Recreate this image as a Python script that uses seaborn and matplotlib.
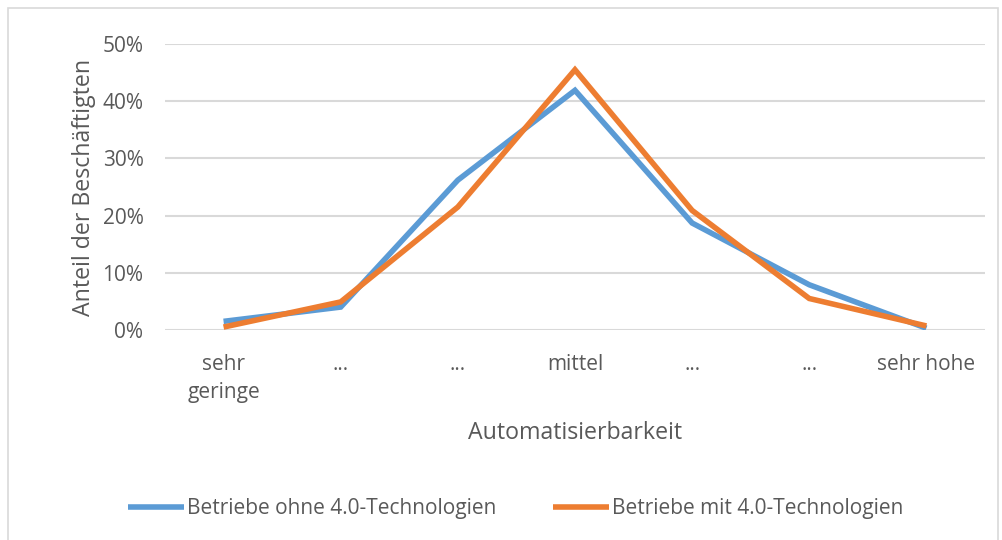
import matplotlib
matplotlib.use("Agg")
import matplotlib.pyplot as plt
import pandas as pd
import seaborn as sns
from matplotlib.patches import Rectangle
from matplotlib.ticker import PercentFormatter

# Werte
kategorien = ["sehr\ngeringe", "...", "...", "mittel", "...", "...", "sehr hohe"]
ohne_40 = [0.015, 0.040, 0.262, 0.419, 0.187, 0.079, 0.003]
mit_40 = [0.005, 0.049, 0.215, 0.455, 0.209, 0.055, 0.007]
serien = ["Betriebe ohne 4.0-Technologien", "Betriebe mit 4.0-Technologien"]
farben = ["#5B9BD5", "#ED7D31"]

pos = list(range(len(kategorien)))
df = pd.DataFrame({
    "pos": pos * 2,
    "anteil": ohne_40 + mit_40,
    "serie": [serien[0]] * len(pos) + [serien[1]] * len(pos),
})

sns.set_style("white")
plt.rcParams["font.family"] = ["Open Sans", "DejaVu Sans"]
grau = "#595959"

fig = plt.figure(figsize=(10.03, 5.40), dpi=100)
ax = fig.add_axes([0.1645, 0.389, 0.8175, 0.5295])

sns.lineplot(data=df, x="pos", y="anteil", hue="serie", palette=farben,
             linewidth=4.0, ax=ax, legend=True)
for l in ax.lines:
    l.set_solid_joinstyle("miter")
    l.set_solid_capstyle("butt")

ax.set_xlim(-0.5, len(kategorien) - 0.5)
ax.set_ylim(0, 0.5)
ax.set_yticks([0, 0.1, 0.2, 0.3, 0.4, 0.5])
ax.yaxis.set_major_formatter(PercentFormatter(1.0, decimals=0))
ax.set_xticks(pos)
ax.set_xticklabels(kategorien, linespacing=1.45)
ax.tick_params(axis="x", length=0, pad=17, labelsize=15, colors=grau)
ax.tick_params(axis="y", length=0, pad=15.5, labelsize=15, colors=grau)
ax.grid(axis="y", color="#d9d9d9", linewidth=1.5)
ax.set_axisbelow(True)
for s in ax.spines.values():
    s.set_visible(False)

ax.set_xlabel("Automatisierbarkeit", fontsize=16.7, color=grau, labelpad=13)
ax.set_ylabel("Anteil der Beschäftigten", fontsize=16.7, color=grau, labelpad=5)

handles, labels = ax.get_legend_handles_labels()
ax.get_legend().remove()
fig.legend(handles, labels, loc="center", bbox_to_anchor=(0.514, 0.058), ncol=2,
           frameon=False, fontsize=15, labelcolor=grau, handlelength=2.7,
           handletextpad=0.1, columnspacing=2.75)

fig.patches.append(Rectangle((0.008, -0.1), 0.987, 1.085, transform=fig.transFigure,
                             fill=False, edgecolor="#d9d9d9", linewidth=1.2))

fig.savefig("out.png", dpi=100)
